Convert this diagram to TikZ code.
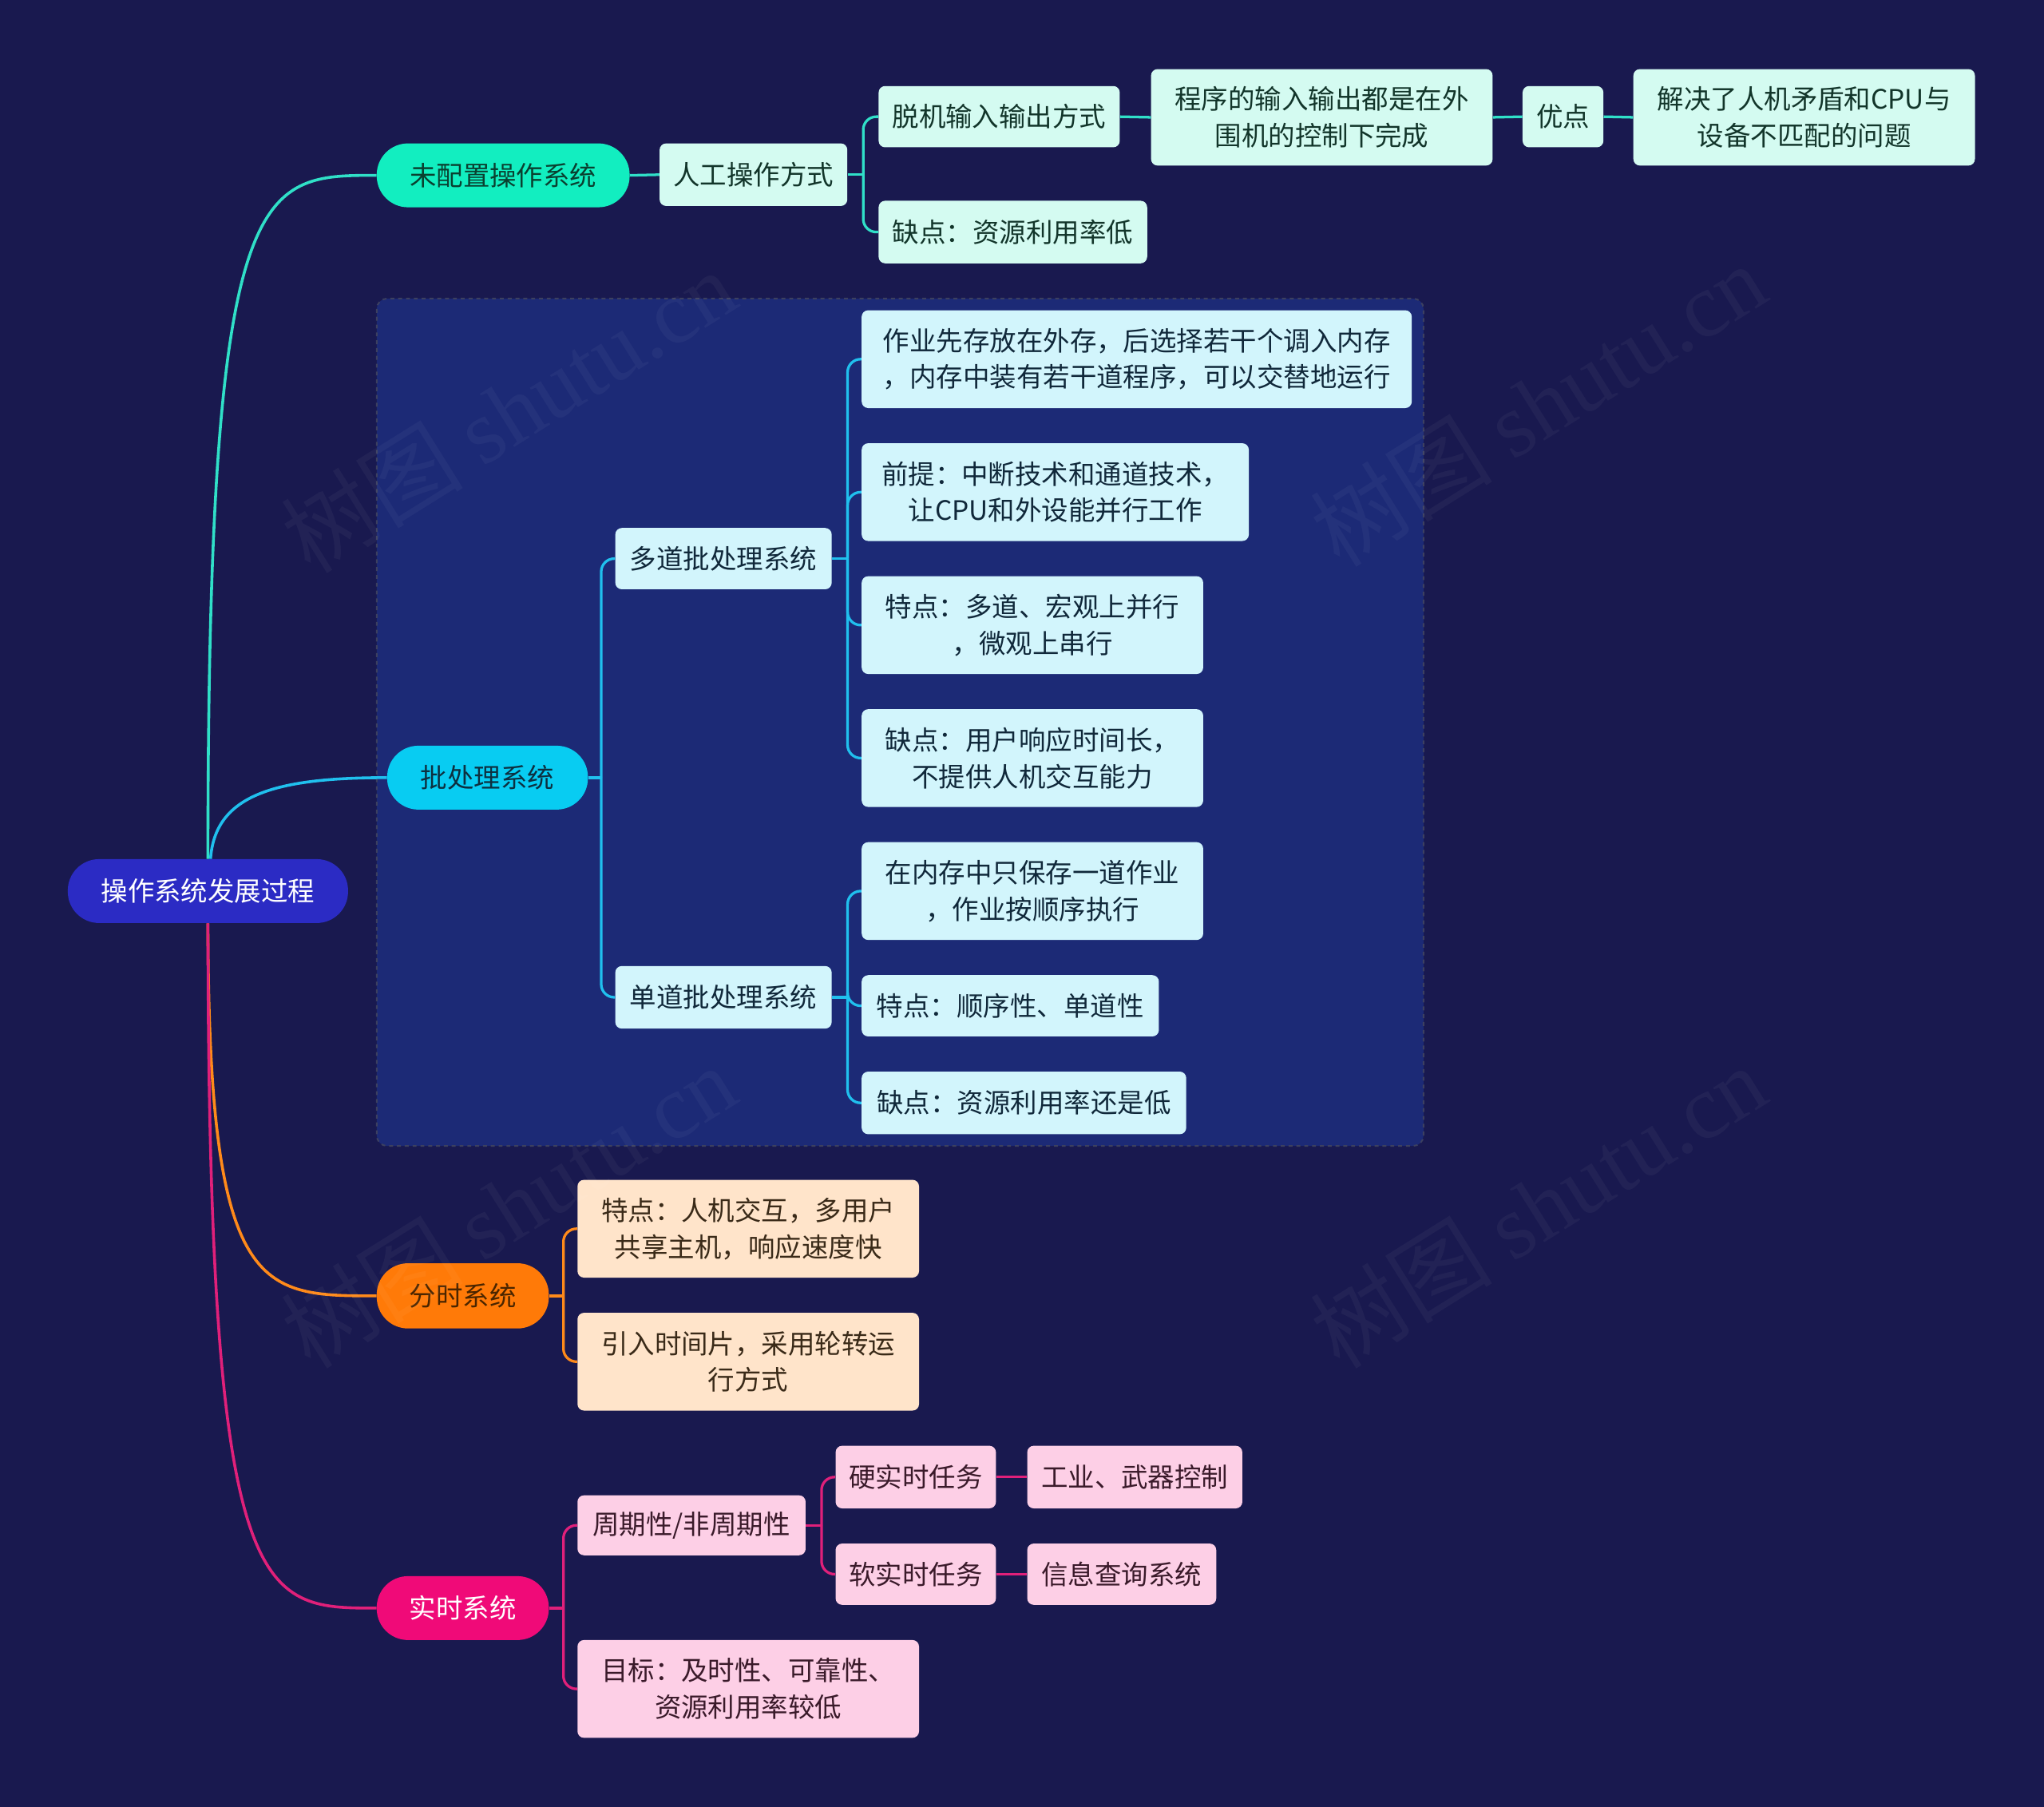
\documentclass[tikz,border=0pt]{standalone}
\usepackage{fontspec}
\setmainfont{Noto Sans CJK SC}
\newfontfamily\wmlatin{Liberation Serif}
\usetikzlibrary{calc}
\definecolor{bgc}{HTML}{19194F}
\definecolor{grpfill}{HTML}{1C2A76}
\definecolor{grpdraw}{HTML}{3C4060}
\definecolor{rootc}{HTML}{2B2BC4}
\definecolor{tealc}{HTML}{12EEC0}
\definecolor{tealtxt}{HTML}{0A4030}
\definecolor{mintc}{HTML}{D4FBF1}
\definecolor{minttxt}{HTML}{12352A}
\definecolor{cyanc}{HTML}{08CCF2}
\definecolor{cyantxt}{HTML}{0D3040}
\definecolor{lcyanc}{HTML}{D2F5FC}
\definecolor{lcyantxt}{HTML}{10283A}
\definecolor{orangec}{HTML}{FF7A08}
\definecolor{orangetxt}{HTML}{4A2500}
\definecolor{peachc}{HTML}{FFE4CA}
\definecolor{peachtxt}{HTML}{3A2A18}
\definecolor{magc}{HTML}{F00A78}
\definecolor{pinkc}{HTML}{FDCFE6}
\definecolor{pinktxt}{HTML}{3A1A2A}
\definecolor{ltealc}{HTML}{30E0C8}
\definecolor{lcyanline}{HTML}{20C0EE}
\definecolor{lorange}{HTML}{FF8A1A}
\definecolor{lpink}{HTML}{E0207A}
\begin{document}
\begin{tikzpicture}[x=1pt,y=-1pt,
  base/.style={inner sep=0pt, align=center, font=\fontsize{20.5}{28}\selectfont},
  pill/.style={base, rounded corners=24pt, minimum height=49pt},
  box/.style={base, rounded corners=5pt},
  mint/.style={box, fill=mintc, text=minttxt},
  lcy/.style={box, fill=lcyanc, text=lcyantxt},
  peach/.style={box, fill=peachc, text=peachtxt},
  pink/.style={box, fill=pinkc, text=pinktxt},
  tline/.style={draw=ltealc, line width=2pt},
  cline/.style={draw=lcyanline, line width=2pt},
  oline/.style={draw=lorange, line width=2pt},
  pline/.style={draw=lpink, line width=2pt},
  bracket/.style={rounded corners=10pt},
  wm/.style={rotate=32, text=white, opacity=0.04, font=\fontsize{70}{70}\selectfont}
]
\fill[bgc] (0,0) rectangle (1568,1386);
\useasboundingbox (0,0) rectangle (1568,1386);

% group box
\draw[fill=grpfill, draw=grpdraw, dashed, line width=1.2pt, rounded corners=8pt] (289,229) rectangle (1092,879);

% nodes
\node[pill, fill=rootc, text=white, minimum width=215pt] (root) at (159.5,683.5) {操作系统发展过程};

\node[pill, fill=tealc, text=tealtxt, minimum width=194pt] (wpz) at (386,134.5) {未配置操作系统};
\node[mint, minimum width=144pt, minimum height=48pt] (rg) at (578,134) {人工操作方式};
\node[mint, minimum width=185pt, minimum height=47pt] (tj) at (766.5,89.5) {脱机输入输出方式};
\node[mint, minimum width=206pt, minimum height=48pt] (qd1) at (777,178) {缺点：资源利用率低};
\node[mint, minimum width=262pt, minimum height=74pt] (cx) at (1014,90) {程序的输入输出都是在外\\围机的控制下完成};
\node[mint, minimum width=62pt, minimum height=47pt] (yd) at (1199,89.5) {优点};
\node[mint, minimum width=262pt, minimum height=74pt] (jj) at (1384,90) {解决了人机矛盾和CPU与\\设备不匹配的问题};

\node[pill, fill=cyanc, text=cyantxt, minimum width=154pt] (pcl) at (374,596.5) {批处理系统};
\node[lcy, minimum width=166pt, minimum height=47pt] (dd) at (555,428.5) {多道批处理系统};
\node[lcy, minimum width=166pt, minimum height=48pt] (sd) at (555,765) {单道批处理系统};
\node[lcy, minimum width=422pt, minimum height=75pt] (zy) at (872,275.5) {作业先存放在外存，后选择若干个调入内存\\，内存中装有若干道程序，可以交替地运行};
\node[lcy, minimum width=297pt, minimum height=75pt] (qt) at (809.5,377.5) {前提：中断技术和通道技术，\\让CPU和外设能并行工作};
\node[lcy, minimum width=262pt, minimum height=75pt] (tdd) at (792,479.5) {特点：多道、宏观上并行\\，微观上串行};
\node[lcy, minimum width=262pt, minimum height=75pt] (qdd) at (792,581.5) {缺点：用户响应时间长，\\不提供人机交互能力};
\node[lcy, minimum width=262pt, minimum height=75pt] (znc) at (792,683.5) {在内存中只保存一道作业\\，作业按顺序执行};
\node[lcy, minimum width=228pt, minimum height=47pt] (tds) at (775,771.5) {特点：顺序性、单道性};
\node[lcy, minimum width=249pt, minimum height=48pt] (qds) at (785.5,846) {缺点：资源利用率还是低};

\node[pill, fill=orangec, text=orangetxt, minimum width=132pt, minimum height=50pt] (fs) at (355,994) {分时系统};
\node[peach, minimum width=262pt, minimum height=75pt] (tdf) at (574,942.5) {特点：人机交互，多用户\\共享主机，响应速度快};
\node[peach, minimum width=262pt, minimum height=75pt] (yr) at (574,1044.5) {引入时间片，采用轮转运\\行方式};

\node[pill, fill=magc, text=white, minimum width=132pt] (ss) at (355,1233.5) {实时系统};
\node[pink, minimum width=175pt, minimum height=46pt] (zq) at (530.5,1170) {周期性/非周期性};
\node[pink, minimum width=262pt, minimum height=75pt] (mb) at (574,1295.5) {目标：及时性、可靠性、\\资源利用率较低};
\node[pink, minimum width=123pt, minimum height=48pt] (ysr) at (702.5,1133) {硬实时任务};
\node[pink, minimum width=123pt, minimum height=47pt] (rsr) at (702.5,1207.5) {软实时任务};
\node[pink, minimum width=165pt, minimum height=48pt] (gy) at (870.5,1133) {工业、武器控制};
\node[pink, minimum width=145pt, minimum height=47pt] (xx) at (860.5,1207.5) {信息查询系统};

% root connectors
\draw[tline, line width=2.2pt] (root.north) .. controls (159.5,134.5) and (198,134.5) .. (wpz.west);
\draw[cline, line width=2.2pt] ($(root.north)+(2,0)$) .. controls (165,610) and (210,596.5) .. (pcl.west);
\draw[oline, line width=2.2pt] (root.south) .. controls (160,994) and (199,994) .. (fs.west);
\draw[pline, line width=2.2pt] (root.south) .. controls (160,1233.5) and (199,1233.5) .. (ss.west);

% teal branch
\draw[tline] (wpz.east) -- (rg.west);
\coordinate (j1) at ($(rg.east)+(12,0)$);
\draw[tline] (rg.east) -- (j1);
\draw[tline, bracket] (j1) |- (tj.west);
\draw[tline, bracket] (j1) |- (qd1.west);
\draw[tline] (tj.east) -- (cx.west);
\draw[tline] (cx.east) -- (yd.west);
\draw[tline] (yd.east) -- (jj.west);

% cyan branch
\coordinate (j2) at ($(pcl.east)+(10,0)$);
\draw[cline] (pcl.east) -- (j2);
\draw[cline, bracket] (j2) |- (dd.west);
\draw[cline, bracket] (j2) |- (sd.west);
\coordinate (j3) at ($(dd.east)+(12,0)$);
\draw[cline] (dd.east) -- (j3);
\draw[cline, bracket] (j3) |- (zy.west);
\draw[cline, bracket] (j3) |- (qt.west);
\draw[cline, bracket] (j3) |- (tdd.west);
\draw[cline, bracket] (j3) |- (qdd.west);
\coordinate (j4) at ($(sd.east)+(12,0)$);
\draw[cline] (sd.east) -- (j4);
\draw[cline, bracket] (j4) |- (znc.west);
\draw[cline, bracket] (j4) |- (tds.west);
\draw[cline, bracket] (j4) |- (qds.west);

% orange branch
\coordinate (j5) at ($(fs.east)+(11,0)$);
\draw[oline] (fs.east) -- (j5);
\draw[oline, bracket] (j5) |- (tdf.west);
\draw[oline, bracket] (j5) |- (yr.west);

% pink branch
\coordinate (j6) at ($(ss.east)+(11,0)$);
\draw[pline] (ss.east) -- (j6);
\draw[pline, bracket] (j6) |- (zq.west);
\draw[pline, bracket] (j6) |- (mb.west);
\coordinate (j7) at ($(zq.east)+(12,0)$);
\draw[pline] (zq.east) -- (j7);
\draw[pline, bracket] (j7) |- (ysr.west);
\draw[pline, bracket] (j7) |- (rsr.west);
\draw[pline] (ysr.east) -- (gy.west);
\draw[pline] (rsr.east) -- (xx.west);

% watermarks
\node[wm] (wm1) at (390,315) {树图 {\wmlatin shutu.cn}};
\node[wm] (wm2) at (1180,310) {树图 {\wmlatin shutu.cn}};
\node[wm] (wm3) at (390,925) {树图 {\wmlatin shutu.cn}};
\node[wm] (wm4) at (1180,925) {树图 {\wmlatin shutu.cn}};
\end{tikzpicture}
\end{document}
